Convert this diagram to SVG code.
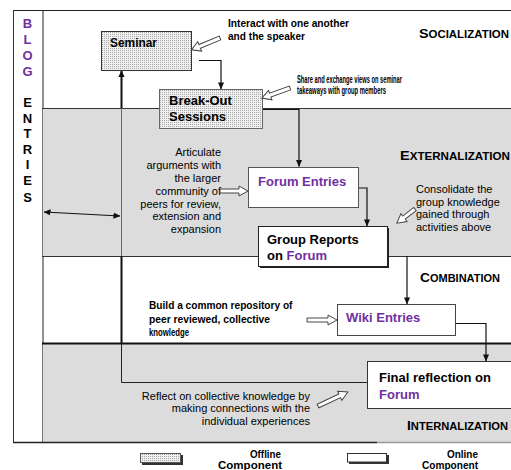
<svg xmlns="http://www.w3.org/2000/svg" width="511" height="470" viewBox="0 0 511 470">
<style>
text{font-family:"Liberation Sans",Arial,sans-serif;fill:#000}
.box{font-size:13px;font-weight:bold}
.pur{fill:#7030A0}
.note{font-size:10px;font-weight:bold}
.body{font-size:11px}
.phase{font-weight:bold;font-size:10px}
.big{font-size:12.5px}
.blog{font-size:13px;font-weight:bold;text-anchor:middle}
.conn{fill:none;stroke:#111;stroke-width:1.2}
.hollow{fill:#fff;stroke:#444;stroke-width:1}
</style>
<defs>
<pattern id="stip" width="2" height="2" patternUnits="userSpaceOnUse">
<rect width="2" height="2" fill="#f0f0f0"/>
<rect width="1" height="1" fill="#a8a8a8"/>
</pattern>
<marker id="ah" viewBox="0 0 8 8" refX="7.5" refY="4" markerWidth="7" markerHeight="7" markerUnits="userSpaceOnUse" orient="auto-start-reverse">
<path d="M0,0.5 L8,4 L0,7.5 Z" fill="#111"/>
</marker>
</defs>

<g id="background">
<rect x="42" y="108" width="469" height="148" fill="#dcdcdc"/>
<rect x="42" y="343" width="469" height="100" fill="#dcdcdc"/>
<line x1="13" y1="10.5" x2="511" y2="10.5" stroke="#222" stroke-width="1.2"/>
<line x1="13.5" y1="10" x2="13.5" y2="443" stroke="#333" stroke-width="1"/>
<line x1="43" y1="10" x2="43" y2="108" stroke="#222" stroke-width="1"/>
<line x1="42.5" y1="108" x2="42.5" y2="256" stroke="#777" stroke-width="1"/>
<line x1="43" y1="256" x2="43" y2="343" stroke="#222" stroke-width="1"/>
<line x1="42.5" y1="343" x2="42.5" y2="443" stroke="#777" stroke-width="1"/>
<line x1="42" y1="108.5" x2="511" y2="108.5" stroke="#333" stroke-width="1"/>
<line x1="42" y1="256.5" x2="511" y2="256.5" stroke="#333" stroke-width="1"/>
<line x1="42" y1="343.5" x2="511" y2="343.5" stroke="#111" stroke-width="2"/>
<line x1="13" y1="442.5" x2="377" y2="442.5" stroke="#222" stroke-width="1.5"/>
<line x1="377" y1="442.5" x2="511" y2="442.5" stroke="#999" stroke-width="1.5"/>
</g>

<g id="blog-entries">
<text class="blog pur" x="27.5" y="27.5">B</text>
<text class="blog pur" x="27.5" y="43.5">L</text>
<text class="blog pur" x="27.5" y="59.5">O</text>
<text class="blog pur" x="27.5" y="75.5">G</text>
<text class="blog" x="27.5" y="107">E</text>
<text class="blog" x="27.5" y="122.5">N</text>
<text class="blog" x="27.5" y="138">T</text>
<text class="blog" x="27.5" y="153.5">R</text>
<text class="blog" x="27.5" y="169">I</text>
<text class="blog" x="27.5" y="185">E</text>
<text class="blog" x="27.5" y="202">S</text>
</g>

<g id="connectors">
<path class="conn" d="M199,60.5 H221 V89" marker-end="url(#ah)"/>
<path class="conn" d="M262,109.5 H299 V166.5" marker-end="url(#ah)"/>
<path class="conn" d="M358,188 H367 V226" marker-end="url(#ah)"/>
<path class="conn" d="M407,256 V304" marker-end="url(#ah)"/>
<path class="conn" d="M455,323.5 H486 V361" marker-end="url(#ah)"/>
<path d="M367,382.5 H121.5 V343" fill="none" stroke="#222" stroke-width="1"/>
<path d="M121.5,343 V256" fill="none" stroke="#111" stroke-width="2"/>
<path d="M121.5,256 V108" fill="none" stroke="#666" stroke-width="1"/>
<path d="M121.5,108 V70.5" fill="none" stroke="#111" stroke-width="2" marker-end="url(#ah)"/>
<path class="conn" d="M44,212 L120,216" marker-start="url(#ah)" marker-end="url(#ah)"/>
</g>

<g id="seminar">
<rect x="101.5" y="31.5" width="90" height="39" fill="url(#stip)" stroke="#333"/>
<text class="box" x="110" y="47" textLength="47" lengthAdjust="spacingAndGlyphs">Seminar</text>
</g>

<g id="breakout">
<rect x="159.5" y="89.5" width="103" height="39" fill="url(#stip)" stroke="#666"/>
<text class="box" x="169" y="104.5">Break-Out</text>
<text class="box" x="169" y="121">Sessions</text>
</g>

<g id="forum-entries">
<rect x="248.5" y="167.5" width="110" height="40" fill="#fff" stroke="#555"/>
<text class="box pur" x="258" y="185.5">Forum Entries</text>
</g>

<g id="group-reports">
<rect x="260" y="228" width="129" height="40" fill="#222"/>
<rect x="258.5" y="226.5" width="129" height="40" fill="#fff" stroke="#222"/>
<text class="box" x="267" y="244">Group Reports</text>
<text class="box" x="267" y="259.5">on <tspan class="pur">Forum</tspan></text>
</g>

<g id="wiki-entries">
<rect x="337.5" y="304.5" width="118" height="31" fill="#fff" stroke="#444"/>
<text class="box pur" x="346" y="322">Wiki Entries</text>
</g>

<g id="final-reflection">
<rect x="367.5" y="361.5" width="145" height="47" fill="#fff" stroke="#333"/>
<text class="box" x="379" y="382">Final reflection on</text>
<text class="box pur" x="379" y="398.5">Forum</text>
</g>

<g id="phase-labels">
<text class="phase" x="419" y="37.5" textLength="90" lengthAdjust="spacingAndGlyphs"><tspan class="big">S</tspan>OCIALIZATION</text>
<text class="phase" x="400" y="159.5" textLength="110" lengthAdjust="spacingAndGlyphs"><tspan class="big">E</tspan>XTERNALIZATION</text>
<text class="phase" x="420" y="282" textLength="80" lengthAdjust="spacingAndGlyphs"><tspan class="big">C</tspan>OMBINATION</text>
<text class="phase" x="407" y="430" textLength="101" lengthAdjust="spacingAndGlyphs"><tspan class="big">I</tspan>NTERNALIZATION</text>
</g>

<g id="annotations">
<text class="note" x="228" y="26.5" textLength="121" lengthAdjust="spacingAndGlyphs">Interact with one another</text>
<text class="note" x="228" y="39.5" textLength="77" lengthAdjust="spacingAndGlyphs">and the speaker</text>
<path class="hollow" d="M0,-2 H22 V-5 L31,0 L22,5 V2 H0 Z" transform="translate(220,38) rotate(157.5)"/>

<text class="note" x="297" y="82.5" textLength="105" lengthAdjust="spacingAndGlyphs">Share and exchange views on seminar</text>
<text class="note" x="297" y="94" textLength="89" lengthAdjust="spacingAndGlyphs">takeaways with group members</text>
<path class="hollow" d="M0,-2 H21 V-5 L30,0 L21,5 V2 H0 Z" transform="translate(290,88) rotate(160.3)"/>

<g class="body" text-anchor="end">
<text class="body" x="221" y="156">Articulate</text>
<text class="body" x="221" y="169">arguments with</text>
<text class="body" x="221" y="181.5">the larger</text>
<text class="body" x="221" y="194.5">community of</text>
<text class="body" x="221" y="207.5">peers for review,</text>
<text class="body" x="221" y="220">extension and</text>
<text class="body" x="221" y="233">expansion</text>
</g>
<path class="hollow" d="M0,-2 H19 V-5 L28,0 L19,5 V2 H0 Z" transform="translate(220,191)"/>

<text class="body" x="416" y="193">Consolidate the</text>
<text class="body" x="416" y="205.5">group knowledge</text>
<text class="body" x="416" y="218">gained through</text>
<text class="body" x="416" y="230.5">activities above</text>
<path class="hollow" d="M0,-2 H14 V-5 L23,0 L14,5 V2 H0 Z" transform="translate(415,209) rotate(142)"/>

<text class="note" x="149" y="309" textLength="143.5" lengthAdjust="spacingAndGlyphs">Build a common repository of</text>
<text class="note" x="149" y="322.5" textLength="121" lengthAdjust="spacingAndGlyphs">peer reviewed, collective</text>
<text class="note" x="149" y="336" textLength="40" lengthAdjust="spacingAndGlyphs">knowledge</text>
<path class="hollow" d="M0,-2 H21 V-5 L30,0 L21,5 V2 H0 Z" transform="translate(307,320)"/>

<g text-anchor="end">
<text class="body" x="310" y="399.5">Reflect on collective knowledge by</text>
<text class="body" x="310" y="412">making connections with the</text>
<text class="body" x="310" y="424.5">individual experiences</text>
</g>
<path class="hollow" d="M0,-2 H24 V-5 L33,0 L24,5 V2 H0 Z" transform="translate(318,406) rotate(-25)"/>
</g>

<g id="legend-offline">
<rect x="142" y="455" width="41" height="10" fill="#333"/>
<rect x="140.5" y="453.5" width="40" height="9" fill="url(#stip)" stroke="#555"/>
<text class="note" x="281" y="458" text-anchor="end" textLength="31" lengthAdjust="spacingAndGlyphs">Offline</text>
<text class="note" x="282" y="469" text-anchor="end" textLength="64" lengthAdjust="spacingAndGlyphs">Component</text>
</g>
<g id="legend-online">
<rect x="349" y="455" width="40" height="9" fill="#333"/>
<rect x="347.5" y="453.5" width="39" height="8.5" fill="#fff" stroke="#333"/>
<text class="note" x="478" y="458" text-anchor="end" textLength="31" lengthAdjust="spacingAndGlyphs">Online</text>
<text class="note" x="478" y="469" text-anchor="end" textLength="56" lengthAdjust="spacingAndGlyphs">Component</text>
</g>
</svg>
